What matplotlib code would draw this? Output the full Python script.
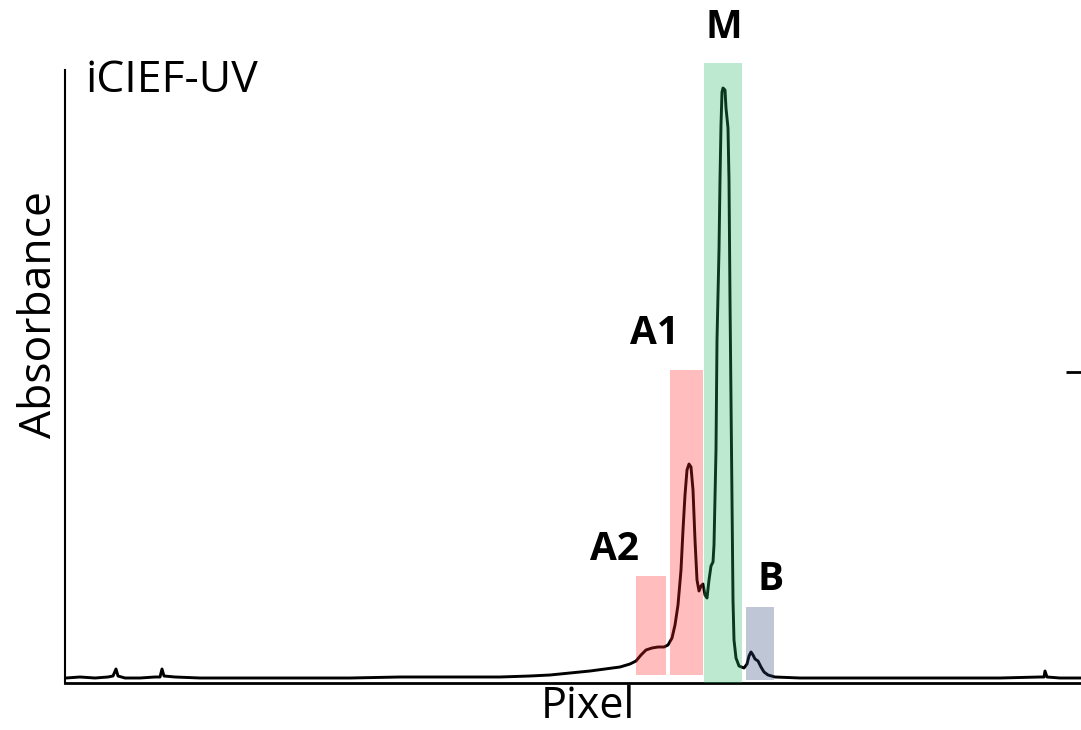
import matplotlib.pyplot as plt
from matplotlib.patches import Rectangle

# trace: (pixel, absorbance in arbitrary units)
trace = [(1, 5), (15, 6), (30, 5), (43, 6), (48, 7), (51, 14), (53, 7), (60, 5),
         (75, 5), (90, 6), (95, 6), (97, 14), (99, 7), (110, 6), (135, 5),
         (185, 5), (235, 5), (285, 5), (335, 6), (385, 6), (435, 6), (465, 7),
         (485, 8), (505, 10), (525, 12), (540, 14), (555, 16), (565, 19),
         (571, 22), (576, 28), (581, 33), (587, 35), (593, 36), (599, 36),
         (603, 38), (607, 45), (610, 58), (613, 78), (616, 113), (618, 153),
         (620, 188), (622, 213), (624, 219), (626, 216), (628, 193), (630, 143),
         (632, 103), (634, 92), (636, 97), (638, 99), (640, 88), (642, 85),
         (644, 103), (646, 117), (648, 121), (649, 138), (651, 233), (652, 343),
         (654, 433), (655, 503), (656, 558), (657, 591), (658, 595), (660, 593),
         (661, 575), (663, 555), (664, 503), (665, 383), (666, 283), (667, 183),
         (668, 83), (669, 43), (671, 25), (674, 17), (679, 15), (682, 19),
         (684, 27), (686, 31), (688, 28), (690, 24), (693, 22), (696, 16),
         (699, 11), (703, 8), (710, 6), (735, 5), (785, 5), (835, 5), (885, 5),
         (935, 5), (975, 6), (979, 6), (980, 12), (982, 6), (995, 5), (1016, 5)]
pixel = [p for p, a in trace]
absorb = [a for p, a in trace]

# charge variant regions
regions = ["A2", "A1", "M", "B"]
reg_left = [571, 605, 639, 681]
reg_right = [601, 638, 677, 709]
reg_bottom = [8, 8, 0, 3]
reg_top = [107, 313, 620, 76]
reg_color = ["#FF2626", "#FF2626", "#26B969", "#2D487D"]
label_x = [549, 589, 659, 706]
label_y = [134, 350, 656, 103]

fig = plt.figure(figsize=(10.81, 7.30), dpi=100)
ax = fig.add_axes([65/1081, 47/730, 1016/1081, 683/730])

ax.plot(pixel, absorb, color="black", lw=2.1, zorder=2)

for name, l, r, b, t, c, lx, ly in zip(regions, reg_left, reg_right, reg_bottom,
                                        reg_top, reg_color, label_x, label_y):
    ax.add_patch(Rectangle((l, b), r - l, t - b, facecolor=c, edgecolor="none",
                           alpha=0.3, zorder=3))
    ax.text(lx, ly, name, ha="center", va="center", fontsize=28,
            fontweight="bold", family="Open Sans")

ax.set_xlim(0, 1016)
ax.set_ylim(0, 683)

for s in ["top", "right"]:
    ax.spines[s].set_visible(False)
ax.spines["left"].set_bounds(0, 613)
ax.spines["left"].set_linewidth(1.5)
ax.spines["bottom"].set_linewidth(2)

ax.set_xticks([])
ax.set_yticks([311])
ax.tick_params(left=False, right=True, labelleft=False, direction="in",
               length=11, width=2)

ax.set_xlabel("Pixel", fontsize=31, family="Open Sans", va="top")
ax.xaxis.set_label_coords(0.515, -0.002)
ax.set_ylabel("Absorbance", fontsize=32, family="Open Sans", va="center")
ax.yaxis.set_label_coords(-0.025, 0.54)

ax.text(0.0197, 0.866, "iCIEF-UV", transform=ax.transAxes, fontsize=32,
        family="Open Sans", va="baseline", ha="left")

fig.savefig("out.png", dpi=100)
